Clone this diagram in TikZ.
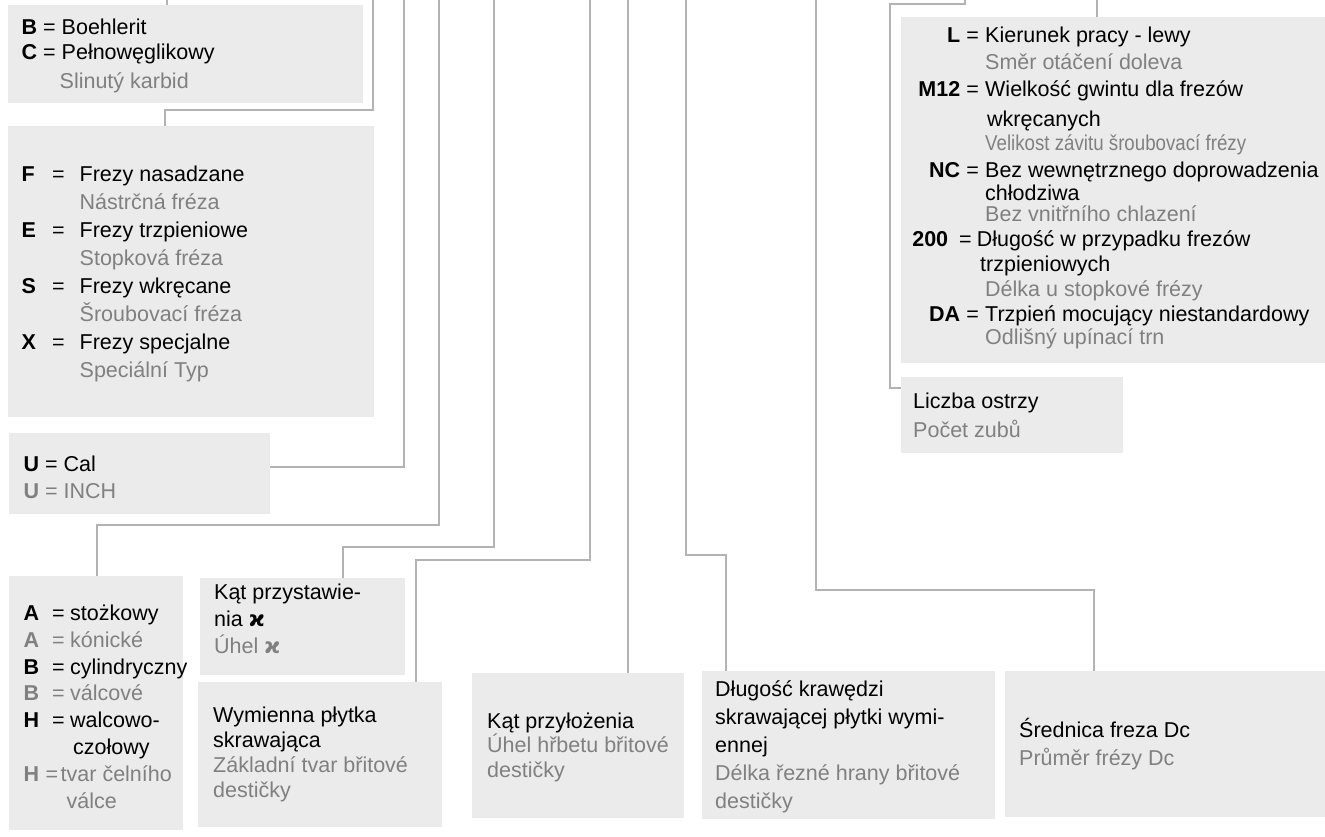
\documentclass[tikz,border=0pt]{standalone}
\usepackage{fontspec}
\usepackage{graphicx}
\setmainfont{Liberation Sans}
\newfontfamily\kappafont{DejaVu Sans}
\definecolor{boxfill}{HTML}{EBEBEB}
\definecolor{linegray}{HTML}{B3B3B3}
\definecolor{txtgray}{HTML}{808080}
\newcommand{\fl}{\rule{0pt}{21pt}}
\newcommand{\ks}{{\kappafont\bfseries ϰ}}
\newcommand{\gr}[1]{{\color{txtgray}#1}}
\newcommand{\fkey}[2]{\makebox[30.5pt][l]{\textbf{#1}}\makebox[27.5pt][l]{=}#2}
\newcommand{\akey}[2]{\makebox[28.5pt][l]{\textbf{#1}}\makebox[18pt][l]{=}#2}
\newcommand{\lkey}[2]{\makebox[55pt][r]{\textbf{#1}}\makebox[25pt]{=}#2}
\lineskiplimit=-100pt
\lineskip=0pt
\tikzset{
  panel/.style={fill=boxfill, anchor=north west, inner sep=0pt},
  txtlines/.style={anchor=north west, inner sep=0pt, align=left,
    font=\fontsize{21.5}{#1}\selectfont},
  conn/.style={draw=linegray, line width=1.4pt}
}
\begin{document}
\begin{tikzpicture}[x=1pt,y=-1pt]
      \fill[white] (0,0) rectangle (1325,836);
      \useasboundingbox (0,0) rectangle (1325,836);
      \coordinate (t1) at (167,0);
      \coordinate (t2) at (373,0);
      \coordinate (t3) at (404,0);
      \coordinate (t4) at (439,0);
      \coordinate (t5) at (494,0);
      \coordinate (t6) at (590,0);
      \coordinate (t7) at (628,0);
      \coordinate (t8) at (686,0);
      \coordinate (t9) at (816,0);
      \coordinate (t10) at (965,0);
      \coordinate (t11) at (1097,0);
      \coordinate (b2) at (165,110);
      \coordinate (b3) at (404,467);
      \coordinate (b4) at (97,525);
      \coordinate (b5) at (343,547);
      \coordinate (b6) at (416,560);
      \coordinate (b8) at (726,555);
      \coordinate (b9) at (1094,590);
      \coordinate (b10) at (890,4);
      \coordinate (c10) at (890,388);
      \node[panel, minimum width=355pt, minimum height=98pt] (boxB) at (8,5) {};
      \node[panel, minimum width=366pt, minimum height=291pt] (boxF) at (8,126) {};
      \node[panel, minimum width=261pt, minimum height=81pt] (boxU) at (9,433) {};
      \node[panel, minimum width=174pt, minimum height=254pt] (boxA) at (9,576) {};
      \node[panel, minimum width=205pt, minimum height=97pt] (boxKp) at (200,578) {};
      \node[panel, minimum width=244pt, minimum height=145pt] (boxW) at (198,682) {};
      \node[panel, minimum width=212pt, minimum height=145pt] (boxKa) at (472,673) {};
      \node[panel, minimum width=293pt, minimum height=148pt] (boxD) at (702,671) {};
      \node[panel, minimum width=320pt, minimum height=146pt] (boxS) at (1005,671) {};
      \node[panel, minimum width=424pt, minimum height=346pt] (boxL) at (901,17) {};
      \node[panel, minimum width=222pt, minimum height=76pt] (boxLi) at (901,377) {};
      \node[txtlines=25] (boxB-t) at (21.5,13) {\fl\textbf{B} = Boehlerit\\
        \textbf{C} = Pełnowęglikowy\\[4pt]
        \hspace*{38pt}\gr{Slinutý karbid}};
      \node[txtlines=28.1] (boxF-t) at (21.5,160) {\fl\fkey{F}{Frezy nasadzane}\\
        \hspace*{58pt}\gr{Nástrčná fréza}\\
        \fkey{E}{Frezy trzpieniowe}\\
        \hspace*{58pt}\gr{Stopková fréza}\\
        \fkey{S}{Frezy wkręcane}\\
        \hspace*{58pt}\gr{Šroubovací fréza}\\
        \fkey{X}{Frezy specjalne}\\
        \hspace*{58pt}\gr{Speciální Typ}};
      \node[txtlines=27] (boxU-t) at (23.5,450) {\fl\textbf{U} = Cal\\
        \gr{\textbf{U} = INCH}};
      \node[txtlines=26.9] (boxA-t) at (23.5,599) {\fl\akey{A}{stożkowy}\\
        \gr{\akey{A}{kónické}}\\
        \akey{B}{cylindryczny}\\
        \gr{\akey{B}{válcové}}\\
        \akey{H}{walcowo-}\\
        \hspace*{49.5pt}czołowy\\
        \gr{\makebox[22pt][l]{\textbf{H}}\makebox[15pt][l]{=}tvar čelního}\\
        \hspace*{43pt}\gr{válce}};
      \node[txtlines=27] (boxKp-t) at (214,578) {\fl Kąt przystawie-\\
        nia \ks\\
        \gr{Úhel \ks}};
      \node[txtlines=25] (boxW-t) at (213,701) {\fl Wymienna płytka\\
        skrawająca\\
        \gr{Základní tvar břitové}\\
        \gr{destičky}};
      \node[txtlines=24.5] (boxKa-t) at (487,707) {\fl Kąt przyłożenia\\
        \gr{Úhel hřbetu břitové}\\
        \gr{destičky}};
      \node[txtlines=28] (boxD-t) at (715,675) {\fl Długość krawędzi\\
        skrawającej płytki wymi-\\
        ennej\\
        \gr{Délka řezné hrany břitové}\\
        \gr{destičky}};
      \node[txtlines=28] (boxS-t) at (1019,716) {\fl Średnica freza Dc\\
        \gr{Průměr frézy Dc}};
      \node[txtlines=25] (boxL-t) at (905,21) {\fl\lkey{L}{Kierunek pracy - lewy}\\[2pt]
        \hspace*{80pt}\gr{Směr otáčení doleva}\\[2pt]
        \lkey{M12}{Wielkość gwintu dla frezów}\\[5pt]
        \hspace*{82pt}wkręcanych\\[-1pt]
        \hspace*{80pt}\gr{\scalebox{0.87}[1]{Velikost závitu šroubovací frézy}}\\[2pt]
        \lkey{NC}{Bez wewnętrznego doprowadzenia}\\[-2pt]
        \hspace*{80pt}chłodziwa\\[-4pt]
        \hspace*{80pt}\gr{Bez vnitřního chlazení}\\
        \makebox[43pt][r]{\textbf{200}}\hspace*{11pt}=\hspace*{5pt}Długość w przypadku frezów\\
        \hspace*{75pt}trzpieniowych\\
        \hspace*{80pt}\gr{Délka u stopkové frézy}\\
        \lkey{DA}{Trzpień mocujący niestandardowy}\\[-2pt]
        \hspace*{80pt}\gr{Odlišný upínací trn}};
      \node[txtlines=29] (boxLi-t) at (913,387) {\fl Liczba ostrzy\\
        \gr{Počet zubů}};
      \begin{scope}[conn]
        \draw (t1) -- (t1 |- boxB.north);
        \draw (t2) |- (b2) -- (b2 |- boxF.north);
        \draw (t3) -- (b3) -- (b3 -| boxU.east);
        \draw (t4) |- (b4) -- (b4 |- boxA.north);
        \draw (t5) |- (b5) -- (b5 |- boxKp.north);
        \draw (t6) |- (b6) -- (b6 |- boxW.north);
        \draw (t7) -- (t7 |- boxKa.north);
        \draw (t8) |- (b8) -- (b8 |- boxD.north);
        \draw (t9) |- (b9) -- (b9 |- boxS.north);
        \draw (t10) |- (b10) -- (c10) -- (c10 -| boxLi.west);
        \draw (t11) -- (t11 |- boxL.north);
      \end{scope}
    \end{tikzpicture}
\end{document}
